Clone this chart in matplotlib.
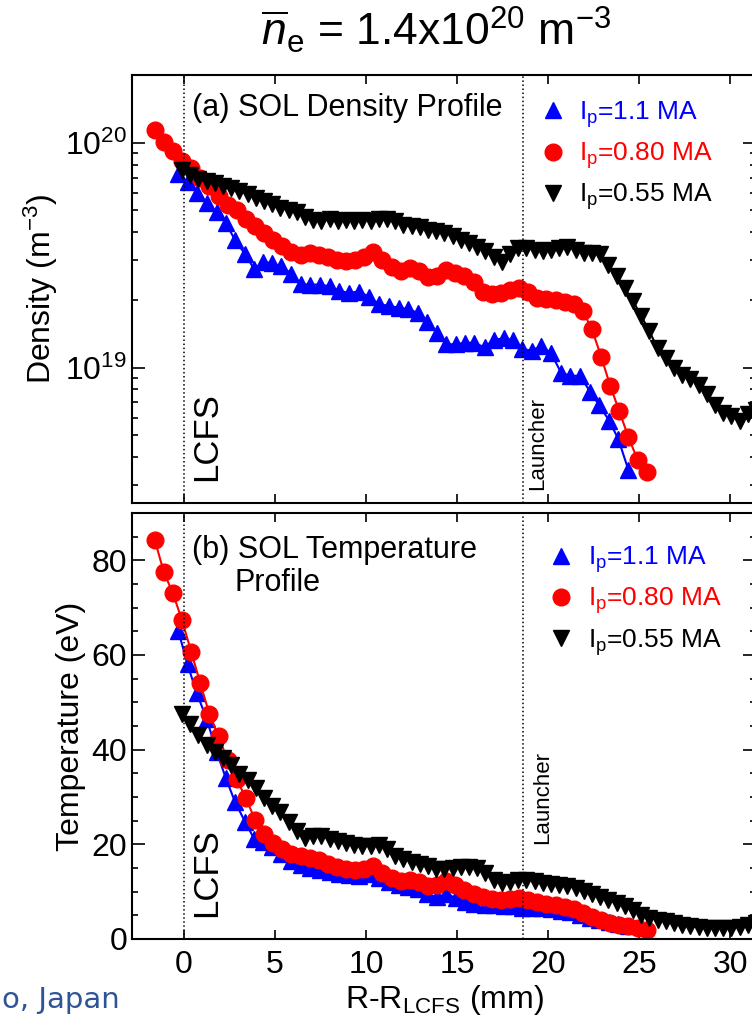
import matplotlib
matplotlib.use('Agg')
import matplotlib.pyplot as plt
from matplotlib.lines import Line2D
from matplotlib.ticker import LogLocator, MultipleLocator, NullFormatter, LogFormatterMathtext

plt.rcParams['font.family'] = ['Liberation Sans', 'DejaVu Sans']
plt.rcParams['mathtext.fontset'] = 'custom'
plt.rcParams['mathtext.rm'] = 'Liberation Sans'
plt.rcParams['mathtext.it'] = 'Liberation Sans:italic'
plt.rcParams['mathtext.bf'] = 'Liberation Sans:bold'

# --- data ---
# Ip = 1.1 MA (blue)
x_11 = [-0.3, 0.2, 0.7, 1.25, 1.8, 2.3, 2.8, 3.35, 3.85, 4.35, 4.85, 5.35, 5.9, 6.4,
        6.9, 7.45, 8.0, 8.5, 9.05, 9.6, 10.15, 10.7, 11.25, 11.8, 12.3, 12.85, 13.35,
        13.9, 14.4, 14.95, 15.45, 15.95, 16.5, 17.0, 17.55, 18.05, 18.55, 19.1, 19.6,
        20.15, 20.7, 21.2, 21.75, 22.3, 22.8, 23.35, 23.85, 24.4]
ne_11 = [7.3, 6.7, 6.0, 5.4, 4.9, 4.4, 3.7, 3.2, 2.75, 2.95, 2.92, 2.82, 2.62, 2.35,
         2.34, 2.34, 2.3, 2.2, 2.15, 2.18, 2.07, 1.92, 1.88, 1.85, 1.82, 1.75, 1.6,
         1.43, 1.27, 1.27, 1.29, 1.29, 1.23, 1.33, 1.35, 1.33, 1.21, 1.19, 1.25,
         1.16, 0.95, 0.92, 0.92, 0.78, 0.68, 0.58, 0.48, 0.35]  # x1e19 m^-3
te_11 = [65.0, 58.0, 52.0, 46.5, 39.5, 34.0, 29.0, 24.8, 21.2, 20.5, 19.5, 18.0, 16.5, 15.6,
         15.0, 14.5, 14.2, 13.8, 13.6, 13.4, 13.8, 12.8, 12.0, 11.4, 11.0, 10.5, 9.6,
         8.8, 9.6, 8.6, 7.8, 7.4, 7.2, 7.1, 7.0, 6.9, 6.6, 6.6, 6.6,
         6.4, 6.0, 5.6, 5.0, 4.5, 4.0, 3.6, 3.2, 2.7]

# Ip = 0.80 MA (red)
x_080 = [-1.6, -1.1, -0.6, -0.1, 0.4, 0.9, 1.4, 1.9, 2.4, 2.9, 3.4, 3.9, 4.4, 4.9,
         5.4, 5.9, 6.4, 6.9, 7.4, 7.9, 8.4, 8.9, 9.4, 9.9, 10.4, 10.9, 11.4, 11.9,
         12.4, 12.9, 13.4, 13.9, 14.4, 14.9, 15.4, 15.9, 16.4, 16.9, 17.4, 17.9,
         18.4, 18.9, 19.4, 19.9, 20.4, 20.9, 21.4, 21.9, 22.4, 22.9, 23.4, 23.9,
         24.4, 24.9, 25.4]
ne_080 = [11.4, 10.1, 9.2, 8.3, 7.7, 7.0, 6.4, 5.8, 5.3, 5.0, 4.6, 4.25, 3.95, 3.7,
          3.48, 3.26, 3.18, 3.22, 3.18, 3.1, 3.0, 2.98, 3.02, 3.1, 3.28, 3.02, 2.8, 2.7,
          2.76, 2.7, 2.52, 2.55, 2.72, 2.64, 2.56, 2.4, 2.17, 2.12, 2.15, 2.22,
          2.25, 2.16, 2.04, 2.01, 1.99, 1.96, 1.92, 1.78, 1.48, 1.12, 0.83, 0.64,
          0.49, 0.39, 0.345]
te_080 = [84.3, 77.5, 73.0, 67.3, 60.7, 54.0, 47.5, 42.8, 37.8, 33.7, 29.8, 25.2, 22.2, 20.3,
          19.0, 18.0, 17.5, 17.2, 16.6, 15.9, 15.2, 14.8, 14.6, 14.7, 15.4, 14.0, 12.8, 12.2,
          12.5, 12.0, 11.2, 11.4, 12.2, 11.4, 10.3, 9.6, 8.9, 8.4, 8.3, 8.5,
          8.6, 8.2, 7.8, 7.4, 7.1, 6.8, 6.3, 5.5, 4.7, 4.0, 3.4, 3.0,
          2.7, 2.3, 2.0]

# Ip = 0.55 MA (black)
x_055 = [-0.1, 0.35, 0.8, 1.25, 1.7, 2.15, 2.6, 3.05, 3.5, 3.95, 4.4, 4.85, 5.3, 5.75,
         6.2, 6.65, 7.1, 7.55, 8.0, 8.45, 8.9, 9.35, 9.8, 10.25, 10.7, 11.15, 11.6,
         12.05, 12.5, 12.95, 13.4, 13.85, 14.3, 14.75, 15.2, 15.65, 16.1, 16.55, 17.0,
         17.45, 17.9, 18.35, 18.8, 19.25, 19.7, 20.15, 20.6, 21.05, 21.5, 21.95, 22.4,
         22.85, 23.3, 23.75, 24.2, 24.65, 25.1, 25.55, 26.0, 26.45, 26.9, 27.35, 27.8,
         28.25, 28.7, 29.15, 29.6, 30.05, 30.5, 30.95, 31.4]
ne_055 = [7.6, 7.2, 6.9, 6.75, 6.6, 6.45, 6.3, 6.1, 5.9, 5.7, 5.5, 5.35, 5.15, 5.0,
          4.9, 4.7, 4.55, 4.5, 4.6, 4.5, 4.55, 4.5, 4.55, 4.5, 4.6, 4.6, 4.5,
          4.3, 4.25, 4.2, 4.1, 4.05, 3.98, 3.85, 3.7, 3.6, 3.45, 3.3, 3.1,
          2.95, 3.2, 3.4, 3.4, 3.35, 3.3, 3.35, 3.42, 3.45, 3.35, 3.25, 3.25,
          3.2, 2.85, 2.55, 2.25, 1.98, 1.7, 1.45, 1.22, 1.1, 1.0, 0.93, 0.89,
          0.84, 0.76, 0.68, 0.63, 0.61, 0.58, 0.62, 0.65]
te_055 = [47.5, 45.4, 43.2, 41.0, 39.6, 38.2, 36.7, 34.8, 33.6, 31.8, 29.7, 28.2, 26.9, 24.8,
          22.8, 21.3, 21.8, 21.8, 21.2, 20.7, 20.2, 19.9, 19.6, 19.7, 19.9, 19.1, 17.6,
          16.9, 16.3, 15.9, 15.4, 14.8, 14.8, 15.1, 15.3, 15.2, 15.1, 13.9, 12.5,
          11.8, 12.1, 12.4, 12.5, 12.3, 11.9, 11.6, 11.4, 11.2, 10.8, 10.2, 9.6,
          8.9, 8.2, 7.6, 6.9, 6.1, 5.1, 4.5, 4.1, 3.7, 3.4, 3.0, 2.7,
          2.5, 2.4, 2.4, 2.4, 2.4, 2.5, 3.0, 3.3]

labels = [r'I$_{\rm p}$=1.1 MA', r'I$_{\rm p}$=0.80 MA', r'I$_{\rm p}$=0.55 MA']
colors = ['#0000FF', '#FF0000', '#000000']
markers = ['^', 'o', 'v']
x_lcfs = 0.0
x_launcher = 18.6

xs = [x_11, x_080, x_055]
dens = [[v * 1e19 for v in ne_11], [v * 1e19 for v in ne_080], [v * 1e19 for v in ne_055]]
temps = [te_11, te_080, te_055]

fig = plt.figure(figsize=(7.52, 10.27), dpi=100)
ax1 = fig.add_axes([0.1755, 0.5102, 0.8298, 0.4167])
ax2 = fig.add_axes([0.1755, 0.0857, 0.8298, 0.4148])

for x, d, t, c, m in zip(xs, dens, temps, colors, markers):
    ax1.plot(x, d, color=c, marker=m, ms=12, lw=1.5, mec=c)
    ax2.plot(x, t, color=c, marker=m, ms=12, lw=1.5, mec=c)

handles = [Line2D([], [], color=c, marker=m, ms=12, ls='none') for c, m in zip(colors, markers)]

for ax in (ax1, ax2):
    ax.set_xlim(-2.85, 31.4)
    ax.axvline(x_lcfs, color='k', ls=':', lw=1.1)
    ax.axvline(x_launcher, color='k', ls=':', lw=1.1)
    for s in ax.spines.values():
        s.set_linewidth(1.5)
    ax.xaxis.set_major_locator(MultipleLocator(5))
    ax.tick_params(which='both', direction='in', top=True, right=True, width=1.2,
                   labelsize=23)
    ax.tick_params(axis='y', which='major', length=9.4)
    ax.tick_params(axis='y', which='minor', length=4.3)
    ax.tick_params(axis='x', which='major', length=6.5, pad=8)
    ax.text(1.25, 0.156, 'LCFS', transform=ax.get_xaxis_transform(), rotation=90,
            ha='center', va='center', fontsize=25)

ax1.set_yscale('log')
ax1.set_ylim(2.5e18, 2.0e20)
ax1.yaxis.set_major_locator(LogLocator(base=10))
ax1.yaxis.set_major_formatter(LogFormatterMathtext())
ax1.yaxis.set_minor_locator(LogLocator(base=10, subs=range(2, 10)))
ax1.yaxis.set_minor_formatter(NullFormatter())
ax1.tick_params(axis='x', labelbottom=False)
ax1.set_ylabel(r'Density (m$^{-3}$)', fontsize=23, labelpad=4)
ax1.text(0.096, 0.923, '(a) SOL Density Profile', transform=ax1.transAxes,
         va='center', ha='left', fontsize=22)
ax1.text(19.4, 0.14, 'Launcher', transform=ax1.get_xaxis_transform(), rotation=90,
         ha='center', va='center', fontsize=16)
ax1.legend(handles, labels, loc='upper left', bbox_to_anchor=(0.657, 0.944),
           frameon=False, fontsize=19, handlelength=0.8, handletextpad=0.6,
           labelspacing=0.4, borderpad=0, borderaxespad=0, labelcolor=colors)

ax2.set_ylim(0, 90)
ax2.yaxis.set_major_locator(MultipleLocator(20))
ax2.yaxis.set_minor_locator(MultipleLocator(5))
ax2.set_ylabel('Temperature (eV)', fontsize=23, labelpad=4)
ax2.set_xlabel(r'R-R$_{\rm LCFS}$ (mm)', fontsize=23, labelpad=2)
ax2.text(0.096, 0.913, '(b) SOL Temperature', transform=ax2.transAxes,
         va='center', ha='left', fontsize=22)
ax2.text(0.165, 0.836, 'Profile', transform=ax2.transAxes,
         va='center', ha='left', fontsize=22)
ax2.text(19.7, 0.333, 'Launcher', transform=ax2.get_xaxis_transform(), rotation=90,
         ha='center', va='center', fontsize=16)
ax2.legend(handles, labels, loc='upper left', bbox_to_anchor=(0.671, 0.926),
           frameon=False, fontsize=19, handlelength=0.8, handletextpad=0.6,
           labelspacing=0.4, borderpad=0, borderaxespad=0, labelcolor=colors)

fig.text(436 / 752, 1 - 30 / 1027, r'$\overline{n}_{\rm e}$ = 1.4x10$^{20}$ m$^{-3}$',
         ha='center', va='center', fontsize=32)
fig.text(0.002, 1 - 1000 / 1027, 'o, Japan', color='#2F5496', fontsize=21,
         va='center', ha='left', family='DejaVu Sans')

fig.savefig('out.png', dpi=100)
